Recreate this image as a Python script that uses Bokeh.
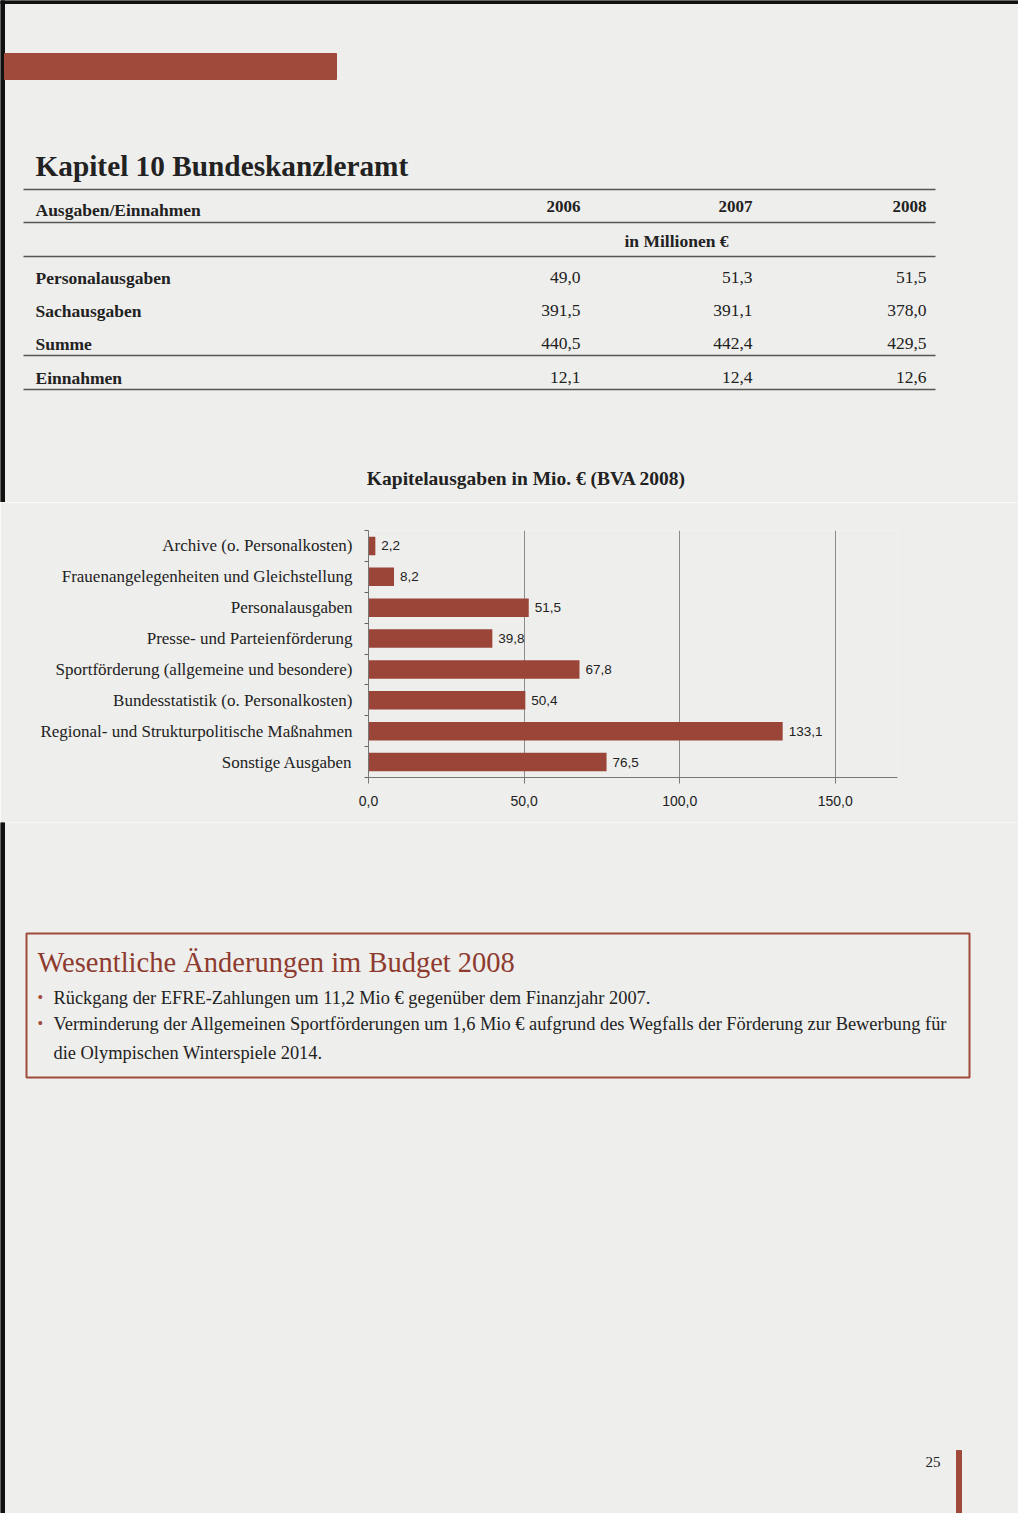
from bokeh.plotting import figure
from bokeh.layouts import column
from bokeh.models import ColumnDataSource, Range1d, FixedTicker
from bokeh.core.properties import value
from bokeh.embed import file_html
from bokeh.resources import INLINE

# ---------------- data ----------------
categories = [
    "Archive (o. Personalkosten)",
    "Frauenangelegenheiten und Gleichstellung",
    "Personalausgaben",
    "Presse- und Parteienförderung",
    "Sportförderung (allgemeine und besondere)",
    "Bundesstatistik (o. Personalkosten)",
    "Regional- und Strukturpolitische Maßnahmen",
    "Sonstige Ausgaben",
]
ausgaben = [2.2, 8.2, 51.5, 39.8, 67.8, 50.4, 133.1, 76.5]
x_ticks = [0, 50, 100, 150]
x_tick_labels = ["0,0", "50,0", "100,0", "150,0"]

table_rows = ["Personalausgaben", "Sachausgaben", "Summe", "Einnahmen"]
table_years = ["2006", "2007", "2008"]
werte_2006 = [49.0, 391.5, 440.5, 12.1]
werte_2007 = [51.3, 391.1, 442.4, 12.4]
werte_2008 = [51.5, 378.0, 429.5, 12.6]

bullets = [
    "Rückgang der EFRE-Zahlungen um 11,2 Mio € gegenüber dem Finanzjahr 2007.",
    "Verminderung der Allgemeinen Sportförderungen um 1,6 Mio € aufgrund des Wegfalls der Förderung zur Bewerbung für",
]
bullet_cont = "die Olympischen Winterspiele 2014."

# ---------------- style ----------------
PAPER = "#eeeeec"
BRICK = "#9f4a3b"
BAR = "#9a4537"
INK = "#222222"
EDGE = "#111111"
SERIF = value("Liberation Serif")
SANS = value("Liberation Sans")
W = 1018
H = 1513


def fmt(v):
    return f"{v:.1f}".replace(".", ",")


def page_fig(y0, y1):
    p = figure(width=W, height=y1 - y0, x_range=Range1d(0, W), y_range=Range1d(y1, y0),
               output_backend="svg", toolbar_location=None,
               x_axis_location=None, y_axis_location=None,
               min_border=0, min_border_left=0, min_border_right=0,
               min_border_top=0, min_border_bottom=0, frame_align=False)
    p.background_fill_color = PAPER
    p.border_fill_color = PAPER
    p.outline_line_color = None
    p.grid.visible = False
    p.quad(left=[0], right=[4], top=[y0], bottom=[y1], color=EDGE)
    return p


# ---------------- top part: header + table ----------------
TOP0, TOP1 = 0, 502
top = page_fig(TOP0, TOP1)
top.quad(left=[0], right=[W], top=[0], bottom=[3], color=EDGE)
top.quad(left=[4], right=[336], top=[53], bottom=[79], color=BRICK)
top.text(x=[35], y=[165], text=["Kapitel 10 Bundeskanzleramt"], text_font=SERIF,
         text_font_style="bold", text_font_size="29.3px", text_color=INK,
         text_baseline="middle")

rule_y = [189, 222, 256, 355, 389]
top.segment(x0=[23] * len(rule_y), x1=[935] * len(rule_y), y0=rule_y, y1=rule_y,
            line_color="#555555", line_width=1.4)

TF = "17.5px"
top.text(x=[35], y=[209], text=["Ausgaben/Einnahmen"], text_font=SERIF,
         text_font_style="bold", text_font_size=TF, text_color=INK, text_baseline="middle")
col_x = [580, 752, 926]
top.text(x=col_x, y=[206] * 3, text=table_years, text_font=SERIF, text_font_style="bold",
         text_font_size="17px", text_color=INK, text_align="right", text_baseline="middle")
top.text(x=[676], y=[240], text=["in Millionen €"], text_font=SERIF, text_font_style="bold",
         text_font_size=TF, text_color=INK, text_align="center", text_baseline="middle")

row_y = [277, 310, 343, 377]
top.text(x=[35] * 4, y=row_y, text=table_rows, text_font=SERIF, text_font_style="bold",
         text_font_size=TF, text_color=INK, text_baseline="middle")
for cx, vals in zip(col_x, [werte_2006, werte_2007, werte_2008]):
    top.text(x=[cx] * 4, y=row_y, text=[fmt(v) for v in vals], text_font=SERIF,
             text_font_size=TF, text_color=INK, text_align="right", text_baseline="middle")

top.text(x=[526], y=[478], text=["Kapitelausgaben in Mio. € (BVA 2008)"], text_font=SERIF,
         text_font_style="bold", text_font_size="19.5px", text_color=INK,
         text_align="center", text_baseline="middle")

# ---------------- bar chart ----------------
CH0, CH1 = 502, 822
n = len(categories)
pos = [i + 1 for i in range(n)]
src = ColumnDataSource(dict(y=pos, v=ausgaben, lab=[fmt(v) for v in ausgaben]))

chart = figure(width=W, height=CH1 - CH0, x_range=Range1d(0, 170), y_range=Range1d(n + 0.5, 0.5),
               output_backend="svg", toolbar_location=None, frame_align=False,
               min_border_left=368, min_border_right=W - 897,
               min_border_top=530 - CH0, min_border_bottom=CH1 - 777)
chart.background_fill_color = PAPER
chart.border_fill_color = PAPER
chart.outline_line_color = None

chart.hbar(y="y", left=0, right="v", height=0.6, source=src, fill_color=BAR, line_color=None)
chart.text(x="v", y="y", text="lab", source=src, x_offset=6, text_font=SANS,
           text_font_size="13.5px", text_color="#222222", text_baseline="middle")

chart.yaxis.ticker = FixedTicker(ticks=pos, minor_ticks=[i + 0.5 for i in range(n + 1)])
chart.yaxis.major_label_overrides = {p: c for p, c in zip(pos, categories)}
chart.yaxis.major_tick_out = 0
chart.yaxis.major_tick_in = 0
chart.yaxis.minor_tick_out = 4
chart.yaxis.minor_tick_in = 0
chart.yaxis.minor_tick_line_color = "#666666"
chart.yaxis.axis_line_color = "#777777"
chart.yaxis.major_label_text_font = "Liberation Serif"
chart.yaxis.major_label_text_font_size = "17px"
chart.yaxis.major_label_text_color = INK
chart.yaxis.major_label_standoff = 12

chart.xaxis.ticker = FixedTicker(ticks=x_ticks)
chart.xaxis.major_label_overrides = {t: l for t, l in zip(x_ticks, x_tick_labels)}
chart.xaxis.major_tick_out = 6
chart.xaxis.major_tick_in = 0
chart.xaxis.minor_tick_line_color = None
chart.xaxis.axis_line_color = "#777777"
chart.xaxis.major_tick_line_color = "#777777"
chart.xaxis.major_label_text_font = "Liberation Sans"
chart.xaxis.major_label_text_font_size = "14px"
chart.xaxis.major_label_text_color = INK
chart.xaxis.major_label_standoff = 12

chart.xgrid.ticker = FixedTicker(ticks=x_ticks)
chart.xgrid.grid_line_color = "#8c8c8c"
chart.ygrid.visible = False

# ---------------- bottom part: box + page number ----------------
BT0, BT1 = 822, H
bot = page_fig(BT0, BT1)
bot.quad(left=[26], right=[969], top=[933], bottom=[1077], fill_color=None,
         line_color=BRICK, line_width=2)
bot.text(x=[37], y=[962], text=["Wesentliche Änderungen im Budget 2008"], text_font=SERIF,
         text_font_size="28.5px", text_color="#8e3b2f", text_baseline="middle")
bul_y = [997, 1023]
bot.text(x=[37] * 2, y=bul_y, text=["•"] * 2, text_font=SERIF, text_font_size="16px",
         text_color=BRICK, text_baseline="middle")
BF = "18.4px"
bot.text(x=[53] * 2, y=bul_y, text=bullets, text_font=SERIF, text_font_size=BF,
         text_color=INK, text_baseline="middle")
bot.text(x=[53], y=[1052], text=[bullet_cont], text_font=SERIF, text_font_size=BF,
         text_color=INK, text_baseline="middle")
bot.text(x=[940], y=[1461], text=["25"], text_font=SERIF, text_font_size="15px",
         text_color=INK, text_align="right", text_baseline="middle")
bot.quad(left=[956], right=[961], top=[1450], bottom=[BT1], color=BRICK)

layout = column(top, chart, bot, spacing=0)
open("out.html", "w").write(file_html(layout, INLINE))
